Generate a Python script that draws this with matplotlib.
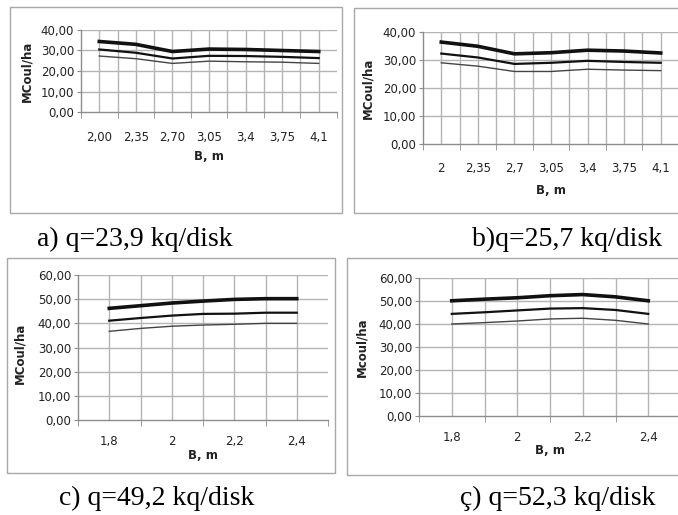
import matplotlib
matplotlib.use('Agg')
import matplotlib.pyplot as plt
from matplotlib.patches import Rectangle

# a) q=23,9 kq/disk
a_labels = ['2,00', '2,35', '2,70', '3,05', '3,4', '3,75', '4,1']
a_thick = [34.4, 33.0, 29.5, 30.7, 30.5, 30.0, 29.5]
a_mid = [30.5, 28.9, 26.1, 27.4, 27.3, 26.9, 26.3]
a_thin = [27.3, 26.0, 23.7, 24.8, 24.5, 24.3, 23.7]

# b) q=25,7 kq/disk
b_labels = ['2', '2,35', '2,7', '3,05', '3,4', '3,75', '4,1']
b_thick = [36.4, 34.9, 32.2, 32.6, 33.5, 33.2, 32.5]
b_mid = [32.3, 30.9, 28.6, 29.0, 29.7, 29.3, 29.0]
b_thin = [29.0, 27.8, 25.9, 25.9, 26.7, 26.4, 26.2]

# c) and ç) share the same B values
cd_B = [1.8, 1.9, 2.0, 2.1, 2.2, 2.3, 2.4]
cd_ticks = [1.8, 2.0, 2.2, 2.4]
cd_labels = ['1,8', '2', '2,2', '2,4']

c_thick = [46.2, 47.3, 48.4, 49.2, 49.9, 50.2, 50.2]
c_mid = [41.1, 42.2, 43.2, 43.9, 44.0, 44.4, 44.4]
c_thin = [36.7, 37.9, 38.8, 39.3, 39.6, 40.0, 40.0]

d_thick = [50.1, 50.8, 51.4, 52.3, 52.8, 51.8, 50.1]
d_mid = [44.4, 45.1, 45.9, 46.7, 46.9, 46.1, 44.4]
d_thin = [40.0, 40.6, 41.3, 42.2, 42.5, 41.6, 40.0]

captions = ['a) q=23,9 kq/disk', 'b)q=25,7 kq/disk',
            'c) q=49,2 kq/disk', 'ç) q=52,3 kq/disk']

W, H = 678, 515
fig = plt.figure(figsize=(W / 100, H / 100), dpi=100)
fig.patch.set_facecolor('white')

GRID = '#b4b4b4'
AXC = '#8c8c8c'
TXT = '#222222'


def px_axes(left, top, right, bottom):
    # pixel box (y from top) -> figure axes
    return fig.add_axes([left / W, 1 - bottom / H, (right - left) / W, (bottom - top) / H])


def box(left, top, right, bottom):
    fig.patches.append(Rectangle((left / W, 1 - bottom / H), (right - left) / W, (bottom - top) / H,
                                 transform=fig.transFigure, fill=False, edgecolor='#a8a8a8', lw=1.0))


def style(ax, ymax, ystep, xpad, ylab):
    ax.set_ylim(0, ymax)
    yt = list(range(0, ymax + 1, ystep))
    ax.set_yticks(yt)
    ax.set_yticklabels(['%d,00' % v for v in yt], fontsize=8.5, color=TXT, family='DejaVu Sans')
    ax.tick_params(axis='y', length=3, color=AXC, pad=2)
    ax.tick_params(axis='x', which='major', length=0, pad=xpad, labelsize=8.5, labelcolor=TXT)
    ax.tick_params(axis='x', which='minor', length=4, color=AXC)
    for s in ['top', 'right']:
        ax.spines[s].set_visible(False)
    for s in ['left', 'bottom']:
        ax.spines[s].set_color(AXC)
        ax.spines[s].set_linewidth(1.0)
    for v in yt[1:]:
        ax.axhline(v, color=GRID, lw=1.0, zorder=1)
    ax.set_ylabel(ylab, fontsize=8.5, fontweight='bold', color=TXT)
    ax.set_xlabel('B, m', fontsize=8.5, fontweight='bold', color=TXT)


def lines(ax, x, thick, mid, thin):
    ax.plot(x, thick, color='#111111', lw=2.6, zorder=4, solid_joinstyle='round')
    ax.plot(x, mid, color='#111111', lw=1.6, zorder=4, solid_joinstyle='round')
    ax.plot(x, thin, color='#444444', lw=1.0, zorder=4, solid_joinstyle='round')


# panel boxes
box(10, 7, 342, 213)
box(354, 8, 690, 213)
box(7, 258, 335, 473)
box(347, 258, 690, 475)

# --- a ---
ax = px_axes(81, 30, 337, 112)
idx = list(range(len(a_labels)))
ax.set_xlim(-0.5, 6.5)
ax.set_xticks(idx)
ax.set_xticklabels(a_labels, family='DejaVu Sans')
ax.set_xticks([i - 0.5 for i in range(8)], minor=True)
for i in range(13):
    ax.axvline(i * 0.5, color=GRID, lw=1.0, zorder=1)
style(ax, 40, 10, 14, 'MCoul/ha')
lines(ax, idx, a_thick, a_mid, a_thin)
ax.yaxis.set_label_coords(-0.185, 0.5)
ax.xaxis.set_label_coords(0.5, -0.46)

# --- b ---
ax = px_axes(423, 32, 679, 144)
idx = list(range(len(b_labels)))
ax.set_xlim(-0.5, 6.5)
ax.set_xticks(idx)
ax.set_xticklabels(b_labels, family='DejaVu Sans')
ax.set_xticks([i - 0.5 for i in range(8)], minor=True)
for i in range(13):
    ax.axvline(i * 0.5, color=GRID, lw=1.0, zorder=1)
style(ax, 40, 10, 13, 'MCoul/ha')
lines(ax, idx, b_thick, b_mid, b_thin)
ax.yaxis.set_label_coords(-0.19, 0.5)
ax.xaxis.set_label_coords(0.5, -0.36)

# --- c ---
ax = px_axes(78, 275, 328, 420)
ax.set_xlim(1.7, 2.5)
ax.set_xticks(cd_ticks)
ax.set_xticklabels(cd_labels, family='DejaVu Sans')
ax.set_xticks([1.7, 1.9, 2.1, 2.3, 2.5], minor=True)
for v in cd_B:
    ax.axvline(v, color=GRID, lw=1.0, zorder=1)
style(ax, 60, 10, 11, 'MCoul/ha')
lines(ax, cd_B, c_thick, c_mid, c_thin)
ax.yaxis.set_label_coords(-0.205, 0.46)
ax.xaxis.set_label_coords(0.5, -0.2)

# --- ç ---
ax = px_axes(419, 278, 681, 416)
ax.set_xlim(1.7, 2.5)
ax.set_xticks(cd_ticks)
ax.set_xticklabels(cd_labels, family='DejaVu Sans')
ax.set_xticks([1.7, 1.9, 2.1, 2.3, 2.5], minor=True)
for v in cd_B:
    ax.axvline(v, color=GRID, lw=1.0, zorder=1)
style(ax, 60, 10, 11, 'Mcoul/ha')
lines(ax, cd_B, d_thick, d_mid, d_thin)
ax.yaxis.set_label_coords(-0.195, 0.5)
ax.xaxis.set_label_coords(0.5, -0.2)

# captions under the panels
cap_pos = [(135, 246), (567, 246), (157, 505), (558, 505)]
for (cx, cy), t in zip(cap_pos, captions):
    fig.text(cx / W, 1 - cy / H, t, ha='center', va='baseline',
             fontsize=20, family='Liberation Serif', color='black')

fig.savefig('out.png', dpi=100)
